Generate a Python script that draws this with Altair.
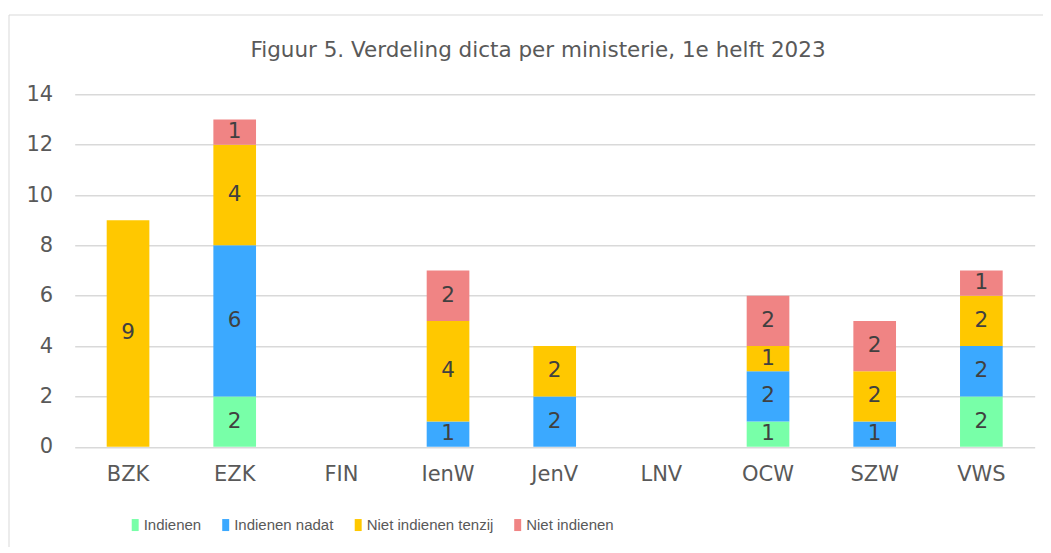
import altair as alt
import pandas as pd

ministeries = ["BZK", "EZK", "FIN", "IenW", "JenV", "LNV", "OCW", "SZW", "VWS"]
series = ["Indienen", "Indienen nadat", "Niet indienen tenzij", "Niet indienen"]
indienen = [0, 2, 0, 0, 0, 0, 1, 0, 2]
indienen_nadat = [0, 6, 0, 1, 2, 0, 2, 1, 2]
niet_tenzij = [9, 4, 0, 4, 2, 0, 1, 2, 2]
niet_indienen = [0, 1, 0, 2, 0, 0, 2, 2, 1]
colors = ["#78FFA8", "#3BA9FF", "#FFC800", "#F08484"]
title_text = "Figuur 5. Verdeling dicta per ministerie, 1e helft 2023"

rows = []
for si, (name, vals) in enumerate(zip(series, [indienen, indienen_nadat, niet_tenzij, niet_indienen])):
    for m, v in zip(ministeries, vals):
        rows.append({"ministerie": m, "reeks": name, "idx": si, "waarde": v})
df = pd.DataFrame(rows)

FONT = "DejaVu Sans"
GREY = "#595959"

base = (
    alt.Chart(df)
    .transform_filter("datum.waarde > 0")
    .transform_stack(stack="waarde", groupby=["ministerie"], sort=[alt.SortField("idx")], as_=["y0", "y1"])
    .transform_calculate(mid="(datum.y0 + datum.y1) / 2")
)

xscale = alt.Scale(domain=ministeries, paddingInner=0.6, paddingOuter=0.3)

x_enc = alt.X(
    "ministerie:N",
    scale=xscale,
    axis=alt.Axis(title=None, labelAngle=0, labelFontSize=21, labelColor=GREY, labelFont=FONT,
                  labelPadding=17, ticks=False, domain=False, grid=False),
)

bars = base.mark_bar().encode(
    x=x_enc,
    y=alt.Y("y0:Q", scale=alt.Scale(domain=[0, 14]),
            axis=alt.Axis(title=None, values=list(range(0, 15, 2)), labelFontSize=21, labelColor=GREY,
                          labelFont=FONT, labelPadding=22, ticks=False, domain=False,
                          gridColor="#d9d9d9", gridWidth=1.6)),
    y2="y1:Q",
    color=alt.Color("reeks:N", scale=alt.Scale(domain=series, range=colors),
                    legend=alt.Legend(title=None)),
)

labels = base.mark_text(fontSize=21.5, color="#404040", font=FONT, baseline="middle").encode(
    x=alt.X("ministerie:N", scale=xscale),
    y=alt.Y("mid:Q"),
    text=alt.Text("waarde:Q"),
)

border = alt.Chart(pd.DataFrame({"a": [0]})).mark_rect(
    fill=None, stroke="#d9d9d9", strokeWidth=1, clip=False
).encode(
    x=alt.value(-65.7), x2=alt.value(969.3), y=alt.value(-79.3), y2=alt.value(470)
)

title = alt.Chart(pd.DataFrame({"t": [title_text]})).mark_text(
    fontSize=21.5, color=GREY, font=FONT, align="center", baseline="alphabetic"
).encode(
    x=alt.value(463.3), y=alt.value(-37.5), text="t:N"
)

chart = (
    alt.layer(border, bars, labels, title)
    .properties(
        width=960,
        height=352.5,
        autosize=alt.AutoSizeParams(type="none"),
        padding={"left": 66.7, "top": 86.3, "right": 8, "bottom": 100},
        background="white",
    )
    .configure_view(stroke=None)
    .configure_legend(
        orient="none", direction="horizontal", legendX=53, legendY=423,
        symbolType="M-0.58,-1H0.58V1H-0.58Z", symbolSize=144, symbolStrokeWidth=0, symbolOpacity=1,
        labelFont="Liberation Sans", labelFontSize=15, labelColor=GREY, labelOffset=1,
        columnPadding=16.5,
    )
)

chart.save("out.html", embed_options={"renderer": "svg", "actions": False})
